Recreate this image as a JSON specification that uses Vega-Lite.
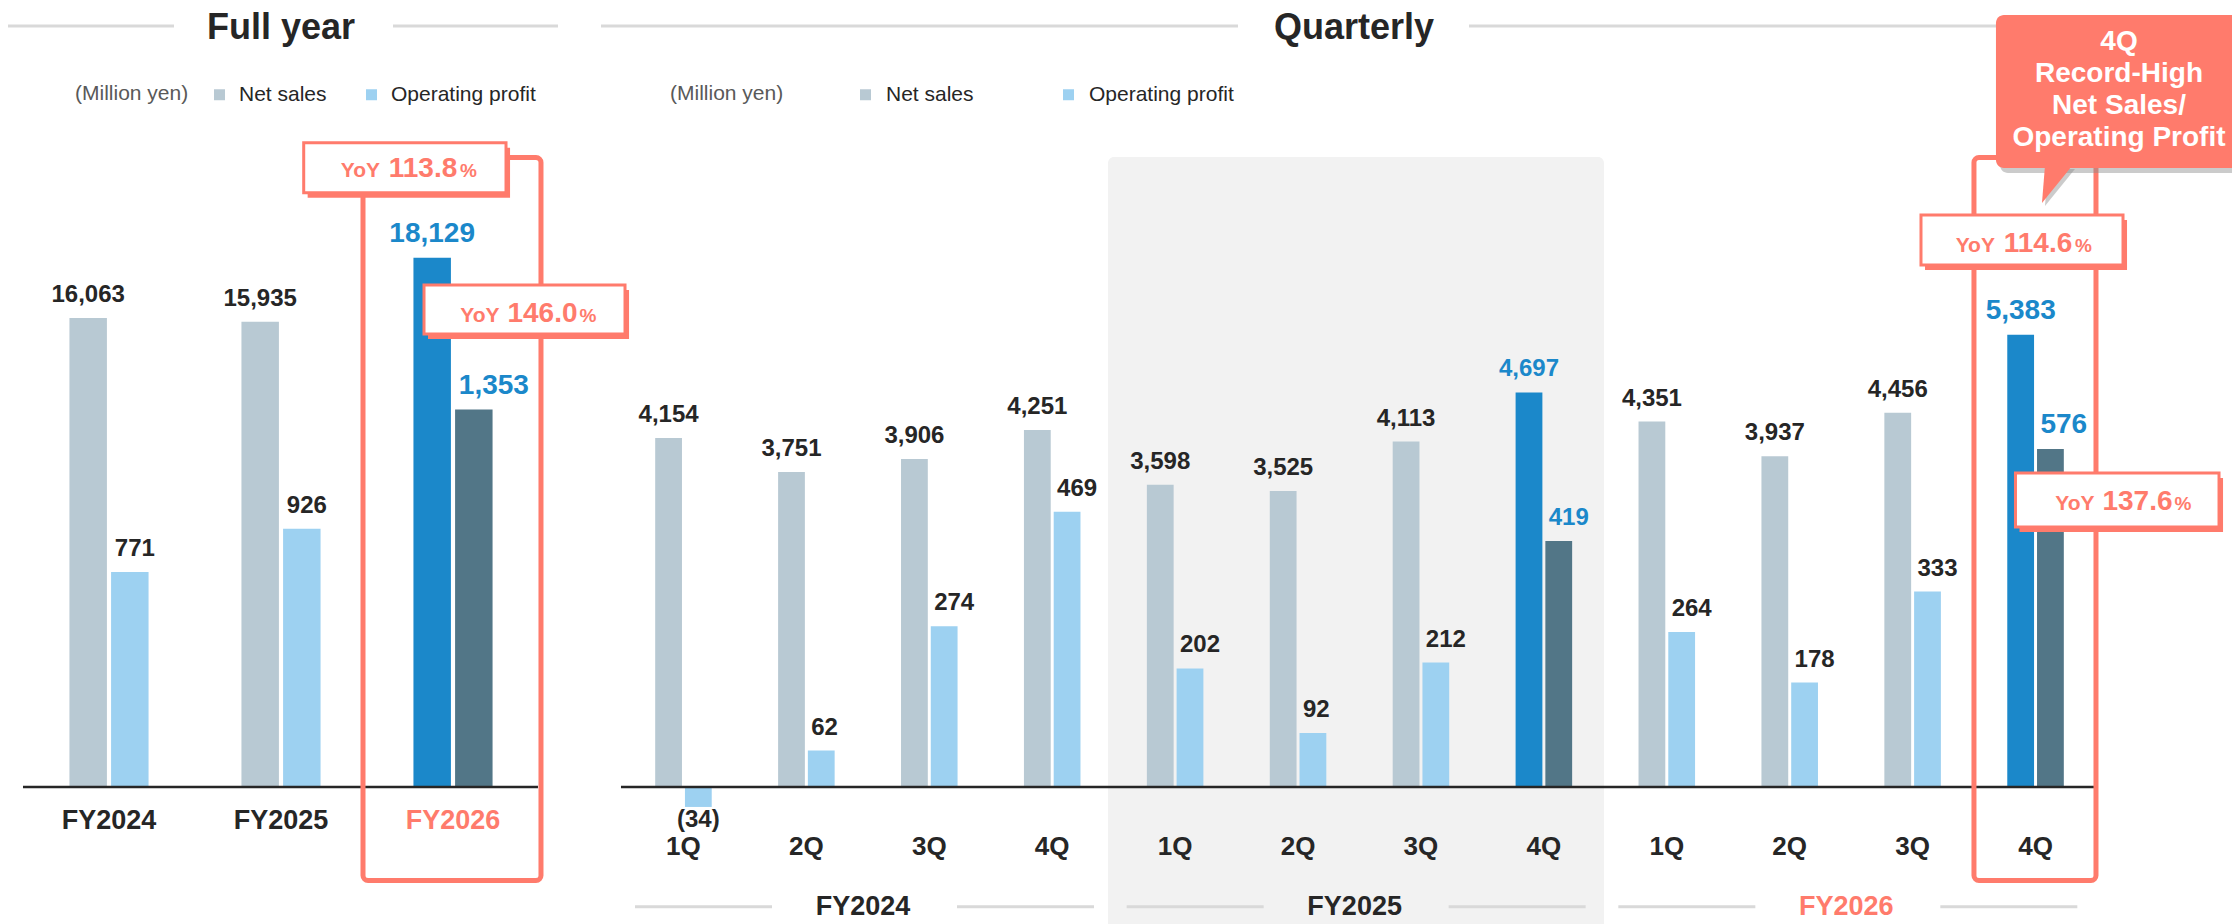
{
  "$schema": "https://vega.github.io/schema/vega-lite/v6.json",
  "padding": 0,
  "background": "white",
  "spacing": 60,
  "bounds": "flush",
  "config": {
    "view": {"stroke": null},
    "font": "Liberation Sans",
    "text": {"font": "Liberation Sans"},
    "axis": {"labelFont": "Liberation Sans"},
    "legend": {"labelFont": "Liberation Sans", "titleFont": "Liberation Sans"}
  },
  "resolve": {"scale": {"color": "independent", "xOffset": "independent"}, "legend": {"color": "independent"}},
  "datasets": {
    "full": [
      {"period": "FY2024", "series": "Net sales", "value": 16063, "highlight": false, "emph": false},
      {"period": "FY2024", "series": "Operating profit", "value": 771, "highlight": false, "emph": false},
      {"period": "FY2025", "series": "Net sales", "value": 15935, "highlight": false, "emph": false},
      {"period": "FY2025", "series": "Operating profit", "value": 926, "highlight": false, "emph": false},
      {"period": "FY2026", "series": "Net sales", "value": 18129, "highlight": true, "emph": true},
      {"period": "FY2026", "series": "Operating profit", "value": 1353, "highlight": true, "emph": true}
    ],
    "quarterly": [
      {"period": "1Q FY2024", "series": "Net sales", "value": 4154, "highlight": false, "emph": false},
      {"period": "1Q FY2024", "series": "Operating profit", "value": -34, "highlight": false, "emph": false},
      {"period": "2Q FY2024", "series": "Net sales", "value": 3751, "highlight": false, "emph": false},
      {"period": "2Q FY2024", "series": "Operating profit", "value": 62, "highlight": false, "emph": false},
      {"period": "3Q FY2024", "series": "Net sales", "value": 3906, "highlight": false, "emph": false},
      {"period": "3Q FY2024", "series": "Operating profit", "value": 274, "highlight": false, "emph": false},
      {"period": "4Q FY2024", "series": "Net sales", "value": 4251, "highlight": false, "emph": false},
      {"period": "4Q FY2024", "series": "Operating profit", "value": 469, "highlight": false, "emph": false},
      {"period": "1Q FY2025", "series": "Net sales", "value": 3598, "highlight": false, "emph": false},
      {"period": "1Q FY2025", "series": "Operating profit", "value": 202, "highlight": false, "emph": false},
      {"period": "2Q FY2025", "series": "Net sales", "value": 3525, "highlight": false, "emph": false},
      {"period": "2Q FY2025", "series": "Operating profit", "value": 92, "highlight": false, "emph": false},
      {"period": "3Q FY2025", "series": "Net sales", "value": 4113, "highlight": false, "emph": false},
      {"period": "3Q FY2025", "series": "Operating profit", "value": 212, "highlight": false, "emph": false},
      {"period": "4Q FY2025", "series": "Net sales", "value": 4697, "highlight": true, "emph": false},
      {"period": "4Q FY2025", "series": "Operating profit", "value": 419, "highlight": true, "emph": false},
      {"period": "1Q FY2026", "series": "Net sales", "value": 4351, "highlight": false, "emph": false},
      {"period": "1Q FY2026", "series": "Operating profit", "value": 264, "highlight": false, "emph": false},
      {"period": "2Q FY2026", "series": "Net sales", "value": 3937, "highlight": false, "emph": false},
      {"period": "2Q FY2026", "series": "Operating profit", "value": 178, "highlight": false, "emph": false},
      {"period": "3Q FY2026", "series": "Net sales", "value": 4456, "highlight": false, "emph": false},
      {"period": "3Q FY2026", "series": "Operating profit", "value": 333, "highlight": false, "emph": false},
      {"period": "4Q FY2026", "series": "Net sales", "value": 5383, "highlight": true, "emph": true},
      {"period": "4Q FY2026", "series": "Operating profit", "value": 576, "highlight": true, "emph": true}
    ],
    "fy": [
      {"fy": "FY2024", "q1": "1Q FY2024", "q2": "2Q FY2024", "q4": "4Q FY2024"},
      {"fy": "FY2025", "q1": "1Q FY2025", "q2": "2Q FY2025", "q4": "4Q FY2025"},
      {"fy": "FY2026", "q1": "1Q FY2026", "q2": "2Q FY2026", "q4": "4Q FY2026"}
    ]
  },
  "hconcat": [
    {
      "width": 562,
      "height": 924,
      "data": {"name": "full"},
      "transform": [{"calculate": "datum.value < 0 ? '(' + format(-datum.value, ',') + ')' : format(datum.value, ',')", "as": "label"}],
      "layer": [
        {
          "layer": [
            {"data": {"values": [{}]}, "mark": {"type": "rule", "color": "#D9D9D9", "strokeWidth": 3},
             "encoding": {"x": {"datum": "FY2024", "type": "nominal", "bandPosition": -0.7765}, "x2": {"datum": "FY2024", "bandPosition": 1.3215},
                          "y": {"datum": 26062, "type": "quantitative", "scale": {"domain": [-4692, 26952], "nice": false, "zero": false}, "axis": null}}},
            {"data": {"values": [{}]}, "mark": {"type": "rule", "color": "#D9D9D9", "strokeWidth": 3},
             "encoding": {"x": {"datum": "FY2026", "type": "nominal", "bandPosition": -0.2583}, "x2": {"datum": "FY2026", "bandPosition": 1.827},
                          "y": {"datum": 26062, "type": "quantitative", "scale": {"domain": [-4692, 26952], "nice": false, "zero": false}, "axis": null}}},
            {"data": {"values": [{}]}, "mark": {"type": "text", "text": "Full year", "fontSize": 36, "fontWeight": "bold", "color": "#262626", "baseline": "alphabetic", "align": "center"},
             "encoding": {"x": {"datum": "FY2025", "type": "nominal"},
                          "y": {"datum": 25616, "type": "quantitative", "scale": {"domain": [-4692, 26952], "nice": false, "zero": false}, "axis": null}}},
            {"transform": [{"filter": "datum.series == 'Net sales'"}],
             "mark": {"type": "bar"},
             "encoding": {
               "x": {"field": "period", "type": "nominal", "scale": {"domain": ["FY2024", "FY2025", "FY2026"], "paddingInner": 0.54, "paddingOuter": 0.4037},
                     "axis": {"title": null, "domain": false, "ticks": false, "tickSize": 0, "labelAngle": 0, "labelAlign": "center", "labelFontSize": 27, "labelFontWeight": "bold",
                              "labelColor": {"condition": {"test": "datum.value == 'FY2026'", "value": "#FF7B6C"}, "value": "#262626"},
                              "labelPadding": 33, "labelBaseline": "middle", "offset": -137, "zindex": 1}},
               "xOffset": {"field": "series", "type": "nominal", "scale": {"domain": ["Net sales", "Operating profit"], "paddingInner": 0.1, "paddingOuter": 0}},
               "y": {"field": "value", "type": "quantitative", "stack": null, "scale": {"domain": [-4692, 26952], "nice": false, "zero": false}, "axis": null},
               "color": {"field": "series", "type": "nominal", "scale": {"domain": ["Net sales", "Operating profit"], "range": ["#B8C9D3", "#9DD1F1"]},
                         "condition": {"test": "datum.highlight", "value": "#1B88CA"},
                         "legend": {"title": "(Million yen)", "orient": "none", "legendX": 75, "legendY": 84, "direction": "horizontal", "titleOrient": "left",
                                    "titleFontSize": 21, "titleFontWeight": "normal", "titleColor": "#595959", "titlePadding": 20,
                                    "labelFontSize": 21, "labelColor": "#262626", "symbolType": "square", "symbolSize": 121, "symbolStrokeWidth": 0,
                                    "symbolOpacity": 1, "labelOffset": 9, "columnPadding": 34}}
             }},
            {"transform": [{"filter": "datum.series == 'Net sales'"}],
             "mark": {"type": "text", "baseline": "alphabetic", "dy": -16, "fontWeight": "bold", "align": "center"},
             "encoding": {
               "x": {"field": "period", "type": "nominal"},
               "xOffset": {"field": "series", "type": "nominal"},
               "y": {"field": "value", "type": "quantitative", "stack": null, "scale": {"domain": [-4692, 26952], "nice": false, "zero": false}, "axis": null},
               "text": {"field": "label"},
               "color": {"condition": {"test": "datum.highlight", "value": "#1B88CA"}, "value": "#262626"},
               "size": {"condition": {"test": "datum.emph", "value": 28}, "value": 24}
             }}
          ]
        },
        {
          "layer": [
            {"transform": [{"filter": "datum.series == 'Operating profit'"}],
             "mark": {"type": "bar"},
             "encoding": {
               "x": {"field": "period", "type": "nominal"},
               "xOffset": {"field": "series", "type": "nominal"},
               "y": {"field": "value", "type": "quantitative", "stack": null, "scale": {"domain": [-491, 2821], "nice": false, "zero": false}, "axis": null},
               "color": {"field": "series", "type": "nominal", "condition": {"test": "datum.highlight", "value": "#527687"}}
             }},
            {"transform": [{"filter": "datum.series == 'Operating profit'"}],
             "mark": {"type": "text", "baseline": "alphabetic", "dy": -16, "dx": -15, "fontWeight": "bold", "align": "left"},
             "encoding": {
               "x": {"field": "period", "type": "nominal"},
               "xOffset": {"field": "series", "type": "nominal"},
               "y": {"field": "value", "type": "quantitative", "stack": null, "scale": {"domain": [-491, 2821], "nice": false, "zero": false}, "axis": null},
               "text": {"field": "label"},
               "color": {"condition": {"test": "datum.highlight", "value": "#1B88CA"}, "value": "#262626"},
               "size": {"condition": {"test": "datum.emph", "value": 28}, "value": 24}
             }}
          ]
        },
        {
          "data": {"values": [{}]},
          "layer": [
            {"mark": {"type": "rule", "color": "#262626", "strokeWidth": 2.5},
             "encoding": {"x": {"datum": "FY2024", "type": "nominal", "bandPosition": -0.587}, "x2": {"datum": "FY2026", "bandPosition": 1.574},
                          "y": {"datum": 0, "type": "quantitative", "scale": {"domain": [-4692, 26952], "nice": false, "zero": false}, "axis": null}}},
            {"mark": {"type": "rect", "fill": "transparent", "stroke": "#FF7B6C", "strokeWidth": 5, "cornerRadius": 5},
             "encoding": {"x": {"datum": "FY2026", "type": "nominal", "bandPosition": -0.6375}, "x2": {"datum": "FY2026", "bandPosition": 1.612},
                          "y": {"datum": 21558, "type": "quantitative", "scale": {"domain": [-4692, 26952], "nice": false, "zero": false}, "axis": null}, "y2": {"datum": -3202}}},
            {"mark": {"type": "rect", "color": "#FF7B6C"},
             "encoding": {"x": {"datum": "FY2026", "type": "nominal", "bandPosition": -1.337}, "x2": {"datum": "FY2026", "bandPosition": 1.221},
                          "y": {"datum": 21894, "type": "quantitative", "scale": {"domain": [-4692, 26952], "nice": false, "zero": false}, "axis": null}, "y2": {"datum": 20182}}},
            {"mark": {"type": "rect", "fill": "white", "stroke": "#FF7B6C", "strokeWidth": 3},
             "encoding": {"x": {"datum": "FY2026", "type": "nominal", "bandPosition": -1.387}, "x2": {"datum": "FY2026", "bandPosition": 1.170},
                          "y": {"datum": 22065, "type": "quantitative", "scale": {"domain": [-4692, 26952], "nice": false, "zero": false}, "axis": null}, "y2": {"datum": 20353}}},
            {"mark": {"type": "text", "text": "113.8", "fontSize": 28, "fontWeight": "bold", "color": "#FF7B6C", "baseline": "alphabetic", "align": "center"},
             "encoding": {"x": {"datum": "FY2026", "type": "nominal", "bandPosition": 0.121},
                          "y": {"datum": 20901, "type": "quantitative", "scale": {"domain": [-4692, 26952], "nice": false, "zero": false}, "axis": null}}},
            {"mark": {"type": "text", "text": "YoY", "fontSize": 21, "fontWeight": "bold", "color": "#FF7B6C", "baseline": "alphabetic", "align": "right", "dx": -43},
             "encoding": {"x": {"datum": "FY2026", "type": "nominal", "bandPosition": 0.121},
                          "y": {"datum": 20901, "type": "quantitative", "scale": {"domain": [-4692, 26952], "nice": false, "zero": false}, "axis": null}}},
            {"mark": {"type": "text", "text": "%", "fontSize": 19, "fontWeight": "bold", "color": "#FF7B6C", "baseline": "alphabetic", "align": "left", "dx": 37},
             "encoding": {"x": {"datum": "FY2026", "type": "nominal", "bandPosition": 0.121},
                          "y": {"datum": 20901, "type": "quantitative", "scale": {"domain": [-4692, 26952], "nice": false, "zero": false}, "axis": null}}},
            {"mark": {"type": "rect", "color": "#FF7B6C"},
             "encoding": {"x": {"datum": "FY2026", "type": "nominal", "bandPosition": 0.184}, "x2": {"datum": "FY2026", "bandPosition": 2.725},
                          "y": {"datum": 17021, "type": "quantitative", "scale": {"domain": [-4692, 26952], "nice": false, "zero": false}, "axis": null}, "y2": {"datum": 15342}}},
            {"mark": {"type": "rect", "fill": "white", "stroke": "#FF7B6C", "strokeWidth": 3},
             "encoding": {"x": {"datum": "FY2026", "type": "nominal", "bandPosition": 0.1335}, "x2": {"datum": "FY2026", "bandPosition": 2.674},
                          "y": {"datum": 17192, "type": "quantitative", "scale": {"domain": [-4692, 26952], "nice": false, "zero": false}, "axis": null}, "y2": {"datum": 15514}}},
            {"mark": {"type": "text", "text": "146.0", "fontSize": 28, "fontWeight": "bold", "color": "#FF7B6C", "baseline": "alphabetic", "align": "center"},
             "encoding": {"x": {"datum": "FY2026", "type": "nominal", "bandPosition": 1.631},
                          "y": {"datum": 15935, "type": "quantitative", "scale": {"domain": [-4692, 26952], "nice": false, "zero": false}, "axis": null}}},
            {"mark": {"type": "text", "text": "YoY", "fontSize": 21, "fontWeight": "bold", "color": "#FF7B6C", "baseline": "alphabetic", "align": "right", "dx": -43},
             "encoding": {"x": {"datum": "FY2026", "type": "nominal", "bandPosition": 1.631},
                          "y": {"datum": 15935, "type": "quantitative", "scale": {"domain": [-4692, 26952], "nice": false, "zero": false}, "axis": null}}},
            {"mark": {"type": "text", "text": "%", "fontSize": 19, "fontWeight": "bold", "color": "#FF7B6C", "baseline": "alphabetic", "align": "left", "dx": 37},
             "encoding": {"x": {"datum": "FY2026", "type": "nominal", "bandPosition": 1.631},
                          "y": {"datum": 15935, "type": "quantitative", "scale": {"domain": [-4692, 26952], "nice": false, "zero": false}, "axis": null}}}
          ]
        }
      ],
      "resolve": {"scale": {"y": "independent"}}
    },
    {
      "width": 1475,
      "height": 924,
      "data": {"name": "quarterly"},
      "transform": [{"calculate": "datum.value < 0 ? '(' + format(-datum.value, ',') + ')' : format(datum.value, ',')", "as": "label"}],
      "layer": [
        {
          "layer": [
            {"data": {"values": [{}]}, "mark": {"type": "rect", "color": "#F2F2F2", "cornerRadiusTopLeft": 6, "cornerRadiusTopRight": 6},
             "encoding": {"x": {"datum": "1Q FY2025", "type": "nominal", "bandPosition": -0.687}, "x2": {"datum": "4Q FY2025", "bandPosition": 1.563},
                          "y": {"datum": 7500, "type": "quantitative", "scale": {"domain": [-1631, 9369], "nice": false, "zero": false}, "axis": null}, "y2": {"datum": -1631}}},
            {"transform": [{"filter": "datum.series == 'Net sales'"}],
             "mark": {"type": "bar"},
             "encoding": {
               "x": {"field": "period", "type": "nominal",
                     "scale": {"domain": ["1Q FY2024", "2Q FY2024", "3Q FY2024", "4Q FY2024", "1Q FY2025", "2Q FY2025", "3Q FY2025", "4Q FY2025", "1Q FY2026", "2Q FY2026", "3Q FY2026", "4Q FY2026"], "paddingInner": 0.54, "paddingOuter": 0.27},
                     "axis": {"title": null, "domain": false, "ticks": false, "tickSize": 0, "labelAngle": 0, "labelAlign": "center", "labelFontSize": 26, "labelFontWeight": "bold", "labelColor": "#262626",
                              "labelExpr": "split(datum.label, ' ')[0]", "labelPadding": 59, "labelBaseline": "middle", "offset": -137, "zindex": 1}},
               "xOffset": {"field": "series", "type": "nominal", "scale": {"domain": ["Net sales", "Operating profit"], "paddingInner": 0.1, "paddingOuter": 0}},
               "y": {"field": "value", "type": "quantitative", "stack": null, "scale": {"domain": [-1631, 9369], "nice": false, "zero": false}, "axis": null},
               "color": {"field": "series", "type": "nominal", "scale": {"domain": ["Net sales", "Operating profit"], "range": ["#B8C9D3", "#9DD1F1"]},
                         "condition": {"test": "datum.highlight", "value": "#1B88CA"},
                         "legend": {"title": "(Million yen)", "orient": "none", "legendX": 48, "legendY": 84, "direction": "horizontal", "titleOrient": "left",
                                    "titleFontSize": 21, "titleFontWeight": "normal", "titleColor": "#595959", "titlePadding": 71,
                                    "labelFontSize": 21, "labelColor": "#262626", "symbolType": "square", "symbolSize": 121, "symbolStrokeWidth": 0,
                                    "symbolOpacity": 1, "labelOffset": 10, "columnPadding": 84}}
             }},
            {"transform": [{"filter": "datum.series == 'Net sales'"}],
             "mark": {"type": "text", "baseline": "alphabetic", "dy": -16, "fontWeight": "bold", "align": "center"},
             "encoding": {
               "x": {"field": "period", "type": "nominal"},
               "xOffset": {"field": "series", "type": "nominal"},
               "y": {"field": "value", "type": "quantitative", "stack": null, "scale": {"domain": [-1631, 9369], "nice": false, "zero": false}, "axis": null},
               "text": {"field": "label"},
               "color": {"condition": {"test": "datum.highlight", "value": "#1B88CA"}, "value": "#262626"},
               "size": {"condition": {"test": "datum.emph", "value": 28}, "value": 24}
             }}
          ]
        },
        {
          "layer": [
            {"transform": [{"filter": "datum.series == 'Operating profit'"}],
             "mark": {"type": "bar"},
             "encoding": {
               "x": {"field": "period", "type": "nominal"},
               "xOffset": {"field": "series", "type": "nominal"},
               "y": {"field": "value", "type": "quantitative", "stack": null, "scale": {"domain": [-233.4, 1340.7], "nice": false, "zero": false}, "axis": null},
               "color": {"field": "series", "type": "nominal", "condition": {"test": "datum.highlight", "value": "#527687"}}
             }},
            {"transform": [{"filter": "datum.series == 'Operating profit' && datum.value >= 0"}],
             "mark": {"type": "text", "baseline": "alphabetic", "dy": -16, "dx": -10, "fontWeight": "bold", "align": "left"},
             "encoding": {
               "x": {"field": "period", "type": "nominal"},
               "xOffset": {"field": "series", "type": "nominal"},
               "y": {"field": "value", "type": "quantitative", "stack": null, "scale": {"domain": [-233.4, 1340.7], "nice": false, "zero": false}, "axis": null},
               "text": {"field": "label"},
               "color": {"condition": {"test": "datum.highlight", "value": "#1B88CA"}, "value": "#262626"},
               "size": {"condition": {"test": "datum.emph", "value": 28}, "value": 24}
             }},
            {"transform": [{"filter": "datum.series == 'Operating profit' && datum.value < 0"}],
             "mark": {"type": "text", "baseline": "middle", "dy": 13, "fontWeight": "bold", "align": "center", "fontSize": 24, "color": "#262626"},
             "encoding": {
               "x": {"field": "period", "type": "nominal"},
               "xOffset": {"field": "series", "type": "nominal"},
               "y": {"field": "value", "type": "quantitative", "stack": null, "scale": {"domain": [-233.4, 1340.7], "nice": false, "zero": false}, "axis": null},
               "text": {"field": "label"}
             }}
          ]
        },
        {
          "data": {"values": [{}]},
          "layer": [
            {"mark": {"type": "rule", "color": "#D9D9D9", "strokeWidth": 3},
             "encoding": {"x": {"datum": "1Q FY2024", "type": "nominal", "bandPosition": -0.958}, "x2": {"datum": "2Q FY2025", "bandPosition": -0.562},
                          "y": {"datum": 9059.5, "type": "quantitative", "scale": {"domain": [-1631, 9369], "nice": false, "zero": false}, "axis": null}}},
            {"mark": {"type": "rule", "color": "#D9D9D9", "strokeWidth": 3},
             "encoding": {"x": {"datum": "3Q FY2025", "type": "nominal", "bandPosition": 1.35}, "x2": {"datum": "4Q FY2026", "bandPosition": 1.463},
                          "y": {"datum": 9059.5, "type": "quantitative", "scale": {"domain": [-1631, 9369], "nice": false, "zero": false}, "axis": null}}},
            {"mark": {"type": "text", "text": "Quarterly", "fontSize": 36, "fontWeight": "bold", "color": "#262626", "baseline": "alphabetic", "align": "center"},
             "encoding": {"x": {"datum": "2Q FY2025", "type": "nominal", "bandPosition": 1.49},
                          "y": {"datum": 8904.8, "type": "quantitative", "scale": {"domain": [-1631, 9369], "nice": false, "zero": false}, "axis": null}}},
            {"mark": {"type": "rule", "color": "#262626", "strokeWidth": 2.5},
             "encoding": {"x": {"datum": "1Q FY2024", "type": "nominal", "bandPosition": -0.605}, "x2": {"datum": "4Q FY2026", "bandPosition": 1.551},
                          "y": {"datum": 0, "type": "quantitative", "scale": {"domain": [-1631, 9369], "nice": false, "zero": false}, "axis": null}}},
            {"data": {"name": "fy"}, "mark": {"type": "rule", "color": "#D9D9D9", "strokeWidth": 3},
             "encoding": {"x": {"field": "q1", "type": "nominal", "bandPosition": -0.357}, "x2": {"field": "q1", "bandPosition": 2.066},
                          "y": {"datum": -1425, "type": "quantitative", "scale": {"domain": [-1631, 9369], "nice": false, "zero": false}, "axis": null}}},
            {"data": {"name": "fy"}, "mark": {"type": "rule", "color": "#D9D9D9", "strokeWidth": 3},
             "encoding": {"x": {"field": "q4", "type": "nominal", "bandPosition": -1.184}, "x2": {"field": "q4", "bandPosition": 1.239},
                          "y": {"datum": -1425, "type": "quantitative", "scale": {"domain": [-1631, 9369], "nice": false, "zero": false}, "axis": null}}},
            {"data": {"name": "fy"}, "mark": {"type": "text", "fontSize": 27, "fontWeight": "bold", "baseline": "middle", "align": "center"},
             "encoding": {"x": {"field": "q2", "type": "nominal", "bandPosition": 1.501},
                          "y": {"datum": -1425, "type": "quantitative", "scale": {"domain": [-1631, 9369], "nice": false, "zero": false}, "axis": null},
                          "text": {"field": "fy"},
                          "color": {"condition": {"test": "datum.fy == 'FY2026'", "value": "#FF7B6C"}, "value": "#262626"}}},
            {"mark": {"type": "rect", "fill": "transparent", "stroke": "#FF7B6C", "strokeWidth": 5, "cornerRadius": 5},
             "encoding": {"x": {"datum": "4Q FY2026", "type": "nominal", "bandPosition": -0.589}, "x2": {"datum": "4Q FY2026", "bandPosition": 1.569},
                          "y": {"datum": 7494, "type": "quantitative", "scale": {"domain": [-1631, 9369], "nice": false, "zero": false}, "axis": null}, "y2": {"datum": -1113}}},
            {"mark": {"type": "rect", "color": "#FF7B6C"},
             "encoding": {"x": {"datum": "4Q FY2026", "type": "nominal", "bandPosition": -1.455}, "x2": {"datum": "4Q FY2026", "bandPosition": 2.118},
                          "y": {"datum": 6750, "type": "quantitative", "scale": {"domain": [-1631, 9369], "nice": false, "zero": false}, "axis": null}, "y2": {"datum": 6154.8}}},
            {"mark": {"type": "rect", "fill": "white", "stroke": "#FF7B6C", "strokeWidth": 3},
             "encoding": {"x": {"datum": "4Q FY2026", "type": "nominal", "bandPosition": -1.526}, "x2": {"datum": "4Q FY2026", "bandPosition": 2.047},
                          "y": {"datum": 6809.5, "type": "quantitative", "scale": {"domain": [-1631, 9369], "nice": false, "zero": false}, "axis": null}, "y2": {"datum": 6214.3}}},
            {"mark": {"type": "text", "text": "114.6", "fontSize": 28, "fontWeight": "bold", "color": "#FF7B6C", "baseline": "alphabetic", "align": "center"},
             "encoding": {"x": {"datum": "4Q FY2026", "type": "nominal", "bandPosition": 0.543},
                          "y": {"datum": 6372.6, "type": "quantitative", "scale": {"domain": [-1631, 9369], "nice": false, "zero": false}, "axis": null}}},
            {"mark": {"type": "text", "text": "YoY", "fontSize": 21, "fontWeight": "bold", "color": "#FF7B6C", "baseline": "alphabetic", "align": "right", "dx": -43},
             "encoding": {"x": {"datum": "4Q FY2026", "type": "nominal", "bandPosition": 0.543},
                          "y": {"datum": 6372.6, "type": "quantitative", "scale": {"domain": [-1631, 9369], "nice": false, "zero": false}, "axis": null}}},
            {"mark": {"type": "text", "text": "%", "fontSize": 19, "fontWeight": "bold", "color": "#FF7B6C", "baseline": "alphabetic", "align": "left", "dx": 37},
             "encoding": {"x": {"datum": "4Q FY2026", "type": "nominal", "bandPosition": 0.543},
                          "y": {"datum": 6372.6, "type": "quantitative", "scale": {"domain": [-1631, 9369], "nice": false, "zero": false}, "axis": null}}},
            {"mark": {"type": "rect", "color": "#FF7B6C"},
             "encoding": {"x": {"datum": "4Q FY2026", "type": "nominal", "bandPosition": 0.216}, "x2": {"datum": "4Q FY2026", "bandPosition": 3.816},
                          "y": {"datum": 3678.6, "type": "quantitative", "scale": {"domain": [-1631, 9369], "nice": false, "zero": false}, "axis": null}, "y2": {"datum": 3035.7}}},
            {"mark": {"type": "rect", "fill": "white", "stroke": "#FF7B6C", "strokeWidth": 3},
             "encoding": {"x": {"datum": "4Q FY2026", "type": "nominal", "bandPosition": 0.145}, "x2": {"datum": "4Q FY2026", "bandPosition": 3.745},
                          "y": {"datum": 3738.1, "type": "quantitative", "scale": {"domain": [-1631, 9369], "nice": false, "zero": false}, "axis": null}, "y2": {"datum": 3095.2}}},
            {"mark": {"type": "text", "text": "137.6", "fontSize": 28, "fontWeight": "bold", "color": "#FF7B6C", "baseline": "alphabetic", "align": "center"},
             "encoding": {"x": {"datum": "4Q FY2026", "type": "nominal", "bandPosition": 2.303},
                          "y": {"datum": 3297.6, "type": "quantitative", "scale": {"domain": [-1631, 9369], "nice": false, "zero": false}, "axis": null}}},
            {"mark": {"type": "text", "text": "YoY", "fontSize": 21, "fontWeight": "bold", "color": "#FF7B6C", "baseline": "alphabetic", "align": "right", "dx": -43},
             "encoding": {"x": {"datum": "4Q FY2026", "type": "nominal", "bandPosition": 2.303},
                          "y": {"datum": 3297.6, "type": "quantitative", "scale": {"domain": [-1631, 9369], "nice": false, "zero": false}, "axis": null}}},
            {"mark": {"type": "text", "text": "%", "fontSize": 19, "fontWeight": "bold", "color": "#FF7B6C", "baseline": "alphabetic", "align": "left", "dx": 37},
             "encoding": {"x": {"datum": "4Q FY2026", "type": "nominal", "bandPosition": 2.303},
                          "y": {"datum": 3297.6, "type": "quantitative", "scale": {"domain": [-1631, 9369], "nice": false, "zero": false}, "axis": null}}},
            {"mark": {"type": "rect", "color": "#8C8C8C", "opacity": 0.45, "cornerRadius": 8},
             "encoding": {"x": {"datum": "4Q FY2026", "type": "nominal", "bandPosition": -0.129}, "x2": {"datum": "4Q FY2026", "bandPosition": 4.27},
                          "y": {"datum": 9131, "type": "quantitative", "scale": {"domain": [-1631, 9369], "nice": false, "zero": false}, "axis": null}, "y2": {"datum": 7309.5}}},
            {"mark": {"type": "point", "shape": "M-0.65,-1L0.81,-1L-0.81,1Z", "size": 1369, "filled": true, "color": "#8C8C8C", "opacity": 0.45, "strokeWidth": 0},
             "encoding": {"x": {"datum": "4Q FY2026", "type": "nominal", "bandPosition": 0.932},
                          "y": {"datum": 7137, "type": "quantitative", "scale": {"domain": [-1631, 9369], "nice": false, "zero": false}, "axis": null}}},
            {"mark": {"type": "rect", "color": "#FF7B6C", "cornerRadius": 8},
             "encoding": {"x": {"datum": "4Q FY2026", "type": "nominal", "bandPosition": -0.2}, "x2": {"datum": "4Q FY2026", "bandPosition": 4.2},
                          "y": {"datum": 9190.5, "type": "quantitative", "scale": {"domain": [-1631, 9369], "nice": false, "zero": false}, "axis": null}, "y2": {"datum": 7369}}},
            {"mark": {"type": "point", "shape": "M-0.65,-1L0.81,-1L-0.81,1Z", "size": 1369, "filled": true, "color": "#FF7B6C", "opacity": 1, "strokeWidth": 0},
             "encoding": {"x": {"datum": "4Q FY2026", "type": "nominal", "bandPosition": 0.879},
                          "y": {"datum": 7172.6, "type": "quantitative", "scale": {"domain": [-1631, 9369], "nice": false, "zero": false}, "axis": null}}},
            {"mark": {"type": "text", "text": ["4Q", "Record-High", "Net Sales/", "Operating Profit"], "lineHeight": 32, "fontSize": 28, "fontWeight": "bold", "color": "white", "baseline": "middle", "align": "center"},
             "encoding": {"x": {"datum": "4Q FY2026", "type": "nominal", "bandPosition": 1.976},
                          "y": {"datum": 8869, "type": "quantitative", "scale": {"domain": [-1631, 9369], "nice": false, "zero": false}, "axis": null}}}
          ]
        }
      ],
      "resolve": {"scale": {"y": "independent"}}
    }
  ]
}
